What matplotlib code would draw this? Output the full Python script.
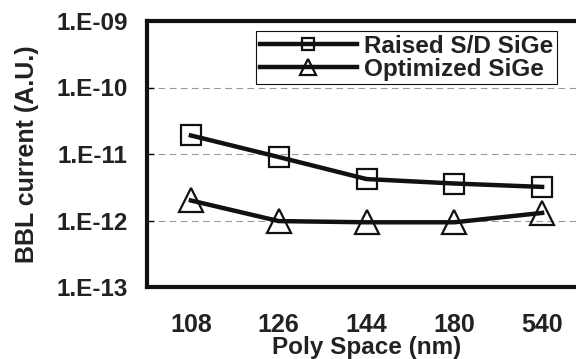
import matplotlib
matplotlib.use('Agg')
import matplotlib.pyplot as plt
import numpy as np

# data
poly_space = ['108', '126', '144', '180', '540']
raised_sd = [1.9e-11, 9.0e-12, 4.2e-12, 3.6e-12, 3.2e-12]
optimized = [2.0e-12, 0.98e-12, 0.94e-12, 0.94e-12, 1.3e-12]
yticks = [1e-13, 1e-12, 1e-11, 1e-10, 1e-9]
ytick_labels = ['1.E-13', '1.E-12', '1.E-11', '1.E-10', '1.E-09']

plt.rcParams['font.family'] = ['Liberation Sans', 'DejaVu Sans']
plt.rcParams['font.weight'] = 'bold'
plt.rcParams['axes.labelweight'] = 'bold'

fig = plt.figure(figsize=(5.76, 3.59), dpi=100)
ax = fig.add_axes([147/576, 1 - 287/359, 439/576, 266/359])

x = np.arange(len(poly_space))
ax.plot(x, raised_sd, color='#111111', lw=3.2, marker='s', ms=14.5,
        mfc='none', mec='#111111', mew=1.6, label='Raised S/D SiGe', zorder=3)
ax.plot(x, optimized, color='#111111', lw=3.2, marker='^', ms=17,
        mfc='none', mec='#111111', mew=1.6, label='Optimized SiGe', zorder=3)

ax.set_yscale('log')
ax.set_ylim(1e-13, 1e-9)
ax.set_xlim(-0.5, len(poly_space) - 0.5)
ax.set_yticks(yticks)
ax.set_yticklabels(ytick_labels, fontweight='bold')
ax.minorticks_off()
ax.set_xticks(x)
ax.set_xticklabels(poly_space, fontweight='bold')

# dashed grid only between the decades
for y in yticks[1:-1]:
    ax.axhline(y, color='#999999', lw=0.8, ls=(0, (6, 4)), zorder=1)

ax.tick_params(axis='y', direction='in', length=5, width=1, pad=14,
               labelsize=17.5, labelcolor='#222222')
ax.tick_params(axis='x', length=0, pad=19, labelsize=18, labelcolor='#222222')

for s in ['left', 'top', 'bottom']:
    ax.spines[s].set_linewidth(3)
    ax.spines[s].set_color('#111111')
ax.spines['right'].set_visible(False)

ax.set_xlabel('Poly Space (nm)', fontsize=17.5, fontweight='bold',
              labelpad=-1, color='#222222')
ax.set_ylabel('BBL current (A.U.)', fontsize=18, fontweight='bold',
              labelpad=12, color='#222222')

leg = ax.legend(loc='upper right', bbox_to_anchor=(557/576, 1 - 31/359),
                bbox_transform=fig.transFigure, borderaxespad=0,
                frameon=True, fancybox=False, framealpha=1,
                handlelength=4.0, handletextpad=0.3, labelspacing=0.0,
                borderpad=0.15, prop={'weight': 'bold', 'size': 17.5})
leg.get_frame().set_edgecolor('#111111')
leg.get_frame().set_linewidth(0.8)
for t in leg.get_texts():
    t.set_color('#222222')
for h, ms in zip(leg.legend_handles, [9, 11]):
    h.set_markersize(ms)

fig.savefig('out.png', dpi=100)
